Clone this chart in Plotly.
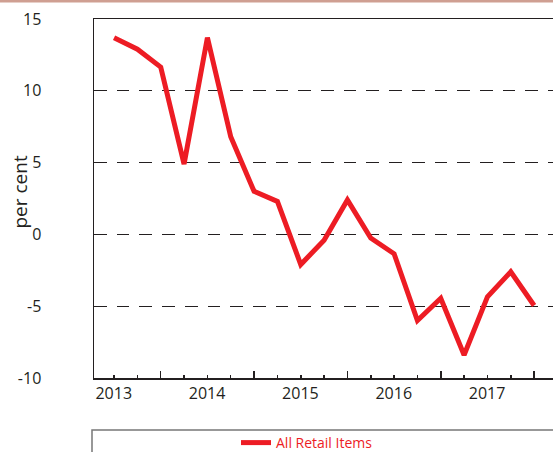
import plotly.graph_objects as go

# ---- data ----
quarter_index = list(range(19))
all_retail_items = [13.7, 12.9, 11.65, 4.9, 13.7, 6.8, 3.0, 2.3, -2.1, -0.4,
                    2.4, -0.25, -1.35, -6.0, -4.45, -8.4, -4.35, -2.6, -4.95]
year_labels = ["2013", "2014", "2015", "2016", "2017"]
year_start_index = [0, 4, 8, 12, 16]
major_tick_positions = [2, 6, 10, 14, 18]
y_tick_values = [-10, -5, 0, 5, 10, 15]
y_tick_labels = ["-10", "-5", "0", "5", "10", "15"]
series_name = "All Retail Items"
y_title = "per cent"

RED = "#ed1c24"
FONT = "Open Sans"
INK = "#231f20"

fig = go.Figure()
fig.add_trace(go.Scatter(
    x=quarter_index, y=all_retail_items, mode="lines", name=series_name,
    line=dict(color=RED, width=5), showlegend=True, hoverinfo="skip",
))

W, H = 553, 452
L, R, T, B = 94, 0, 19, 74
pw = W - L - R
ph = H - T - B

def px_x(px):
    return (px - L) / pw

def px_y(py):
    return (H - B - py) / ph

xr = [-0.86, 18.81]
px_per_quarter = pw / (xr[1] - xr[0])
# labels sit on the first quarter of each year; long ticks sit two quarters later
label_shift = int(round(-(major_tick_positions[0] - year_start_index[0]) * px_per_quarter))

fig.update_layout(
    template="none",
    width=W, height=H,
    margin=dict(l=L, r=R, t=T, b=B, pad=0, autoexpand=False),
    paper_bgcolor="white", plot_bgcolor="white",
    font=dict(family=FONT, size=16, color=INK),
    hovermode=False,
    showlegend=True,
    legend=dict(
        x=px_x(236), y=px_y(443), xanchor="left", yanchor="middle",
        bgcolor="rgba(0,0,0,0)", borderwidth=0,
        font=dict(family=FONT, size=14, color=RED),
    ),
    xaxis=dict(
        range=xr, tickmode="array", tickvals=major_tick_positions,
        ticktext=year_labels, ticklabelshift=label_shift,
        ticks="inside", ticklen=7, tickwidth=1.5, tickcolor=INK,
        minor=dict(tickmode="linear", tick0=0, dtick=1, ticks="inside",
                   ticklen=3.5, tickwidth=1.5, tickcolor=INK, showgrid=False),
        showline=True, linecolor=INK, linewidth=1.5, mirror=True,
        showgrid=False, zeroline=False, automargin=False,
        tickfont=dict(family=FONT, size=16, color=INK),
    ),
    yaxis=dict(
        range=[-10, 15], tickmode="array", tickvals=y_tick_values,
        ticktext=y_tick_labels, ticks="", ticklabelstandoff=48,
        showline=True, linecolor=INK, linewidth=1.5,
        showgrid=True, gridcolor=INK, gridwidth=1, griddash="12.7px,10px",
        zeroline=False, automargin=False,
        tickfont=dict(family=FONT, size=16, color=INK),
    ),
    annotations=[dict(
        text=y_title, xref="paper", yref="paper", x=px_x(19), y=px_y(192.5),
        textangle=-90, showarrow=False, xanchor="center", yanchor="middle",
        font=dict(family=FONT, size=19, color=INK),
    )],
    shapes=[
        # legend frame
        dict(type="rect", xref="paper", yref="paper",
             x0=px_x(92), x1=px_x(600), y0=px_y(500), y1=px_y(430),
             line=dict(color="#777777", width=1.5), fillcolor="rgba(0,0,0,0)"),
        # top decorative band
        dict(type="rect", xref="paper", yref="paper",
             x0=px_x(-10), x1=px_x(600), y0=px_y(2.5), y1=px_y(-1),
             line=dict(width=0), fillcolor="#cf9f92"),
    ],
)

fig.write_html(
    "out.html",
    config={"displayModeBar": False, "staticPlot": True},
    post_script=("document.body.style.margin='0';"
                 "document.body.style.overflow='hidden';"
                 "document.documentElement.style.overflow='hidden';"),
)
